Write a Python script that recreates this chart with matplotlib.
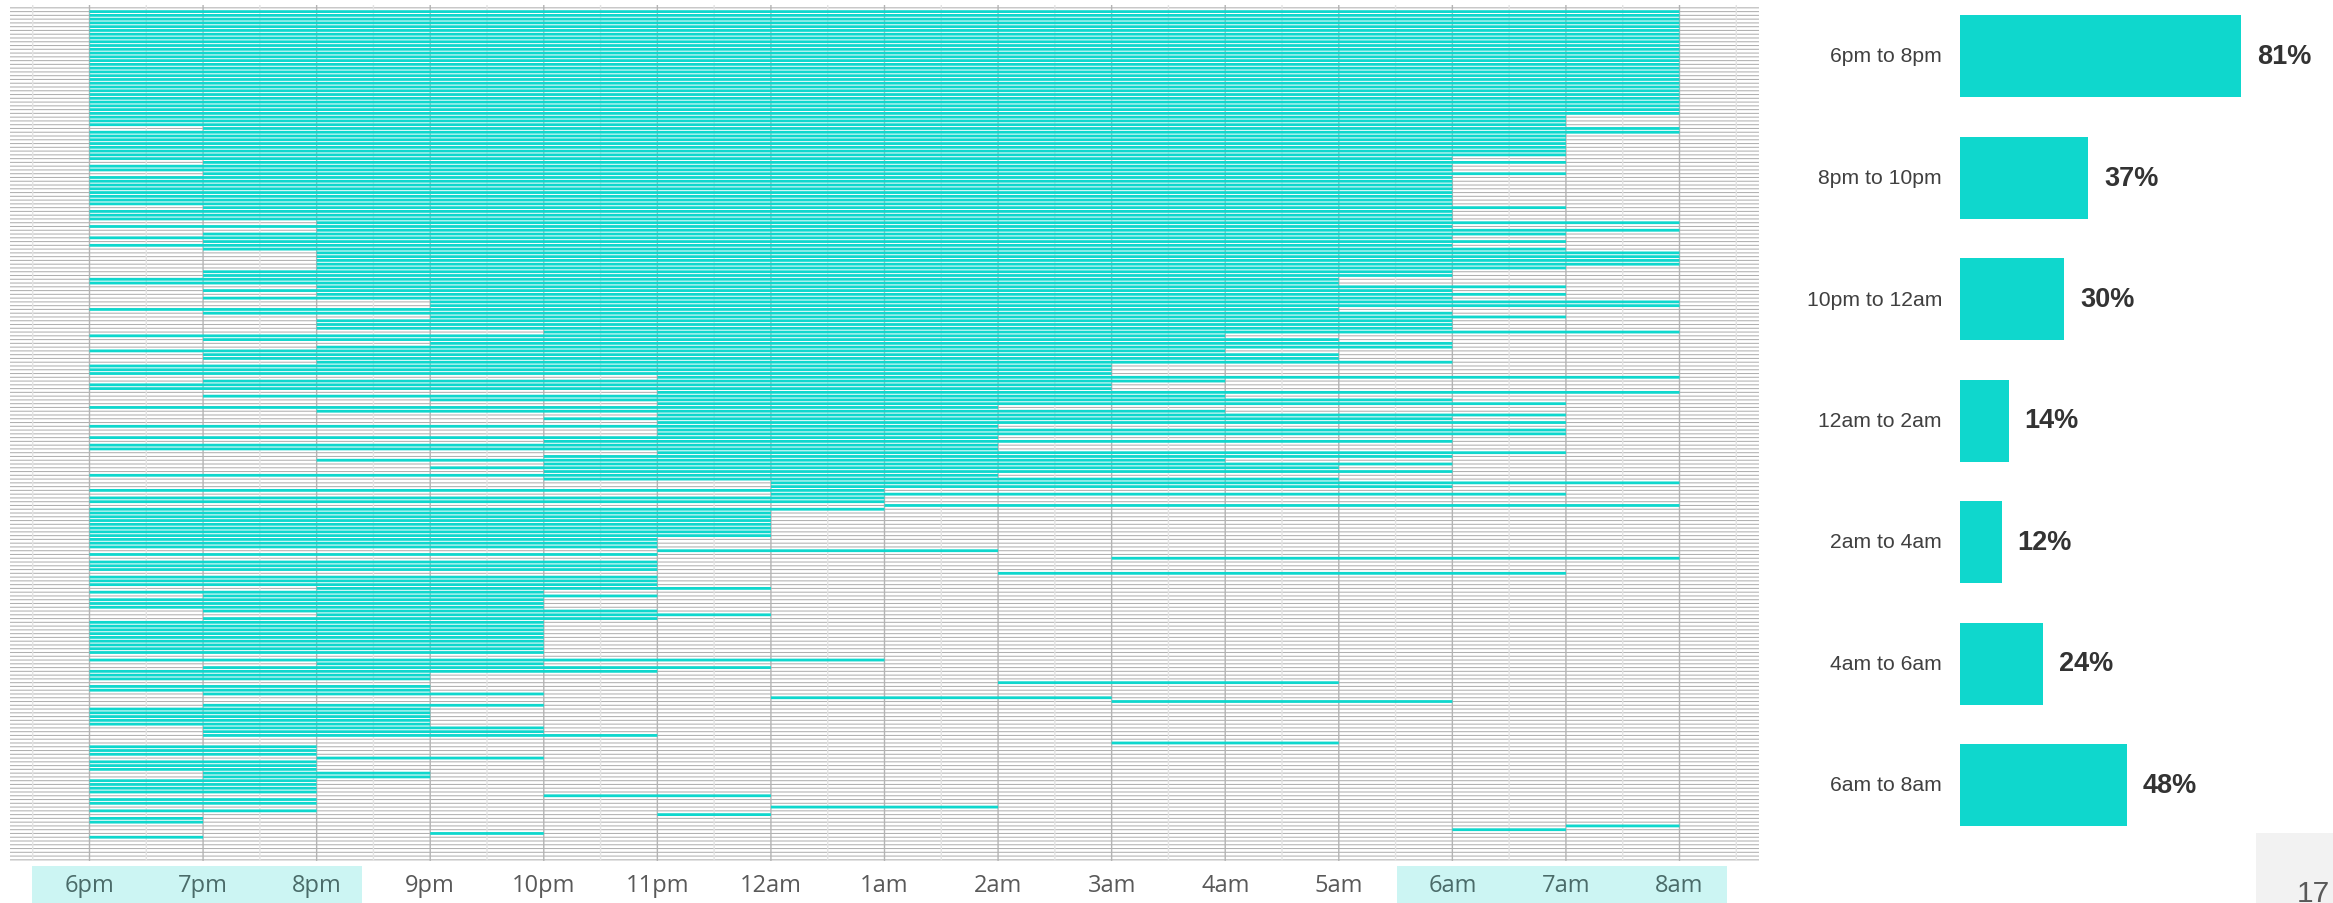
import matplotlib
matplotlib.use("Agg")
import matplotlib.pyplot as plt
from matplotlib.patches import Rectangle

# hour labels for the left chart, 6pm = 0 ... 8am = 14
hour_labels = ['6pm', '7pm', '8pm', '9pm', '10pm', '11pm', '12am', '1am',
               '2am', '3am', '4am', '5am', '6am', '7am', '8am']

# one entry per respondent row, top to bottom. start == end means an empty row
row_start = [
    0, 0, 0, 0, 0, 0, 0, 0, 0, 0,
    0, 0, 0, 0, 0, 0, 0, 0, 0, 0,
    0, 0, 0, 0, 0, 0, 0, 0, 0, 0,
    0, 1, 0, 0, 0, 0, 0, 0, 0, 0,
    1, 0, 0, 1, 0, 0, 0, 0, 0, 0,
    0, 0, 1, 0, 0, 0, 2, 0, 2, 1,
    0, 1, 0, 1, 2, 2, 2, 2, 2, 1,
    1, 0, 0, 2, 1, 2, 1, 3, 3, 0,
    1, 3, 2, 2, 2, 4, 0, 1, 3, 2,
    0, 1, 1, 2, 0, 0, 0, 5, 1, 0,
    0, 5, 1, 3, 5, 0, 2, 5, 4, 5,
    0, 5, 5, 0, 4, 0, 0, 5, 4, 2,
    4, 3, 4, 0, 4, 6, 6, 0, 6, 0,
    0, 7, 0, 0, 0, 0, 0, 0, 0, 0,
    0, 0, 0, 5, 0, 9, 0, 0, 0, 8,
    0, 0, 0, 2, 0, 1, 0, 0, 0, 1,
    2, 1, 0, 0, 0, 0, 0, 0, 0, 0,
    0, 0, 0, 2, 1, 0, 0, 0, 8, 0,
    0, 1, 6, 9, 1, 0, 0, 0, 0, 0,
    1, 1, 1, 0, 9, 0, 0, 0, 2, 0,
    0, 0, 1, 1, 0, 0, 0, 0, 4, 0,
    0, 6, 0, 5, 0, 0, 13, 12, 3, 0,
    0, 0, 0, 0, 0, 0,
]
row_end = [
    14, 14, 14, 14, 14, 14, 14, 14, 14, 14,
    14, 14, 14, 14, 14, 14, 14, 14, 14, 14,
    14, 14, 14, 14, 14, 14, 14, 14, 13, 13,
    13, 14, 14, 13, 13, 13, 13, 13, 13, 12,
    13, 12, 12, 13, 12, 12, 12, 12, 12, 12,
    12, 12, 13, 12, 12, 12, 14, 12, 14, 13,
    12, 13, 12, 13, 14, 14, 14, 14, 13, 12,
    12, 11, 11, 13, 12, 13, 12, 14, 14, 11,
    12, 13, 12, 12, 12, 14, 10, 11, 12, 12,
    10, 11, 11, 12, 9, 9, 9, 14, 10, 9,
    9, 14, 10, 12, 13, 8, 10, 13, 12, 13,
    8, 13, 13, 8, 12, 8, 8, 13, 12, 10,
    12, 11, 12, 8, 11, 14, 12, 7, 13, 7,
    7, 14, 7, 6, 6, 6, 6, 6, 6, 6,
    5, 5, 5, 8, 5, 14, 5, 5, 5, 13,
    5, 5, 5, 6, 4, 5, 4, 4, 4, 5,
    6, 5, 4, 4, 4, 4, 4, 4, 4, 4,
    4, 0, 7, 4, 6, 5, 3, 3, 11, 3,
    3, 4, 9, 12, 4, 3, 3, 3, 3, 3,
    4, 4, 5, 0, 11, 2, 2, 2, 4, 2,
    2, 2, 3, 3, 2, 2, 2, 2, 6, 2,
    2, 8, 2, 6, 1, 1, 14, 13, 4, 1,
    0, 0, 0, 0, 0, 0,
]

# right chart
slot_labels = ['6pm to 8pm', '8pm to 10pm', '10pm to 12am', '12am to 2am',
               '2am to 4am', '4am to 6am', '6am to 8am']
slot_values = [81, 37, 30, 14, 12, 24, 48]

TEAL = '#0FD7CD'
W, H = 2333.0, 904.0


def px_axes(fig, x0, y0, x1, y1):
    # axes from pixel box, y measured from the top of the picture
    return fig.add_axes([x0 / W, 1 - y1 / H, (x1 - x0) / W, (y1 - y0) / H])


fig = plt.figure(figsize=(W / 100, H / 100), dpi=100)

# background layer: label strips and page number box, in pixels
bg = px_axes(fig, 0, 0, W, H)
bg.set_xlim(0, W)
bg.set_ylim(H, 0)
bg.axis('off')
bg.add_patch(Rectangle((32, 867), 330, 37, color='#CCF5F3', lw=0))
bg.add_patch(Rectangle((1397, 867), 330, 37, color='#CCF5F3', lw=0))
bg.add_patch(Rectangle((2256, 834), 77, 70, color='#F2F2F2', lw=0))
bg.text(2297, 902, '17', fontsize=21.5, family='Liberation Sans',
        color='#595959', ha='left', va='baseline')

# left chart
ax = px_axes(fig, 10, 6, 1759, 862)
ax.patch.set_alpha(0)
ax.set_xlim(-0.7, 14.7)
ax.set_ylim((862 - 12.6) / 3.77, (6 - 12.6) / 3.77)
for s in ax.spines.values():
    s.set_visible(False)
ax.tick_params(left=False, labelleft=False, bottom=False)

n_rows = len(row_start)
line_pos = list(range(-1, n_rows))
hl = ax.hlines(line_pos, -0.7, 14.7, color='#B0B0B0', lw=0.75, zorder=1)
hl.set_snap(False)
minor = ax.vlines([h - 0.5 for h in range(16)], -2, n_rows, color='#E3E3E3', lw=1.0, zorder=1.5)
major = ax.vlines(list(range(15)), -2, n_rows, color='#B4B4B4', lw=1.0, zorder=1.6)
minor.set_snap(False)
major.set_snap(False)

widths = [e - s for s, e in zip(row_start, row_end)]
bars = ax.barh(range(n_rows), widths, left=row_start, height=0.74, color=TEAL, lw=0, zorder=2)
for b in bars:
    b.set_snap(False)

ax.set_xticks(range(15), hour_labels, fontsize=17, family='Open Sans', color='#595959')
ax.tick_params(axis='x', length=0, pad=8.5)
for i, t in enumerate(ax.get_xticklabels()):
    if i <= 2 or i >= 12:
        t.set_color('#4A6B69')

# right chart
ax2 = px_axes(fig, 1960, 1, 2333, 905)
ax2.patch.set_alpha(0)
ax2.set_xlim(0, 373 / 3.47)
ax2.set_ylim(848 / 121.5, -56 / 121.5)
ax2.axis('off')
ax2.barh(range(len(slot_values)), slot_values, height=82 / 121.5, color=TEAL, lw=0)
for i, v in enumerate(slot_values):
    ax2.annotate('%d%%' % v, (v, i), xytext=(11.5, 0), textcoords='offset points',
                 fontsize=19.5, fontweight='bold', family='Liberation Sans',
                 color='#333333', ha='left', va='center')
    ax2.annotate(slot_labels[i], (0, i), xytext=(-13, 0), textcoords='offset points',
                 fontsize=15.2, family='Liberation Sans', color='#404040',
                 ha='right', va='center', annotation_clip=False)

fig.savefig('out.png', dpi=100)
